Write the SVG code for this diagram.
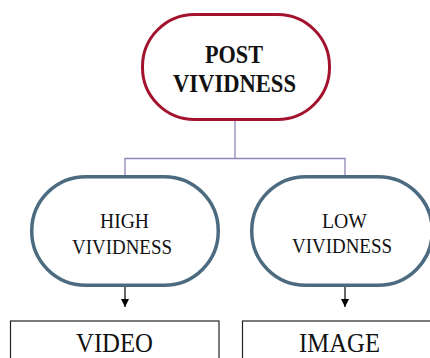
<svg xmlns="http://www.w3.org/2000/svg" width="430" height="358" viewBox="0 0 430 358">
<style>
.root{fill:#fff;stroke:#A3132E;stroke-width:3}
.mid{fill:#fff;stroke:#4D6B80;stroke-width:3.5}
.box{fill:#fff;stroke:#222;stroke-width:1.2}
.conn{fill:none;stroke:#8C88B8;stroke-width:1.3}
.arr{fill:none;stroke:#000;stroke-width:1.2}
text{font-family:"Liberation Serif","Times New Roman",serif;fill:#111;text-anchor:middle}
.b{font-weight:bold;font-size:25px}
.m{font-size:21.5px}
.l{font-size:27px}
</style>
<defs>
<marker id="ah" markerWidth="8" markerHeight="8" refX="8" refY="4" orient="auto" markerUnits="userSpaceOnUse">
<path d="M0,0 L8,4 L0,8 Z" fill="#000"/>
</marker>
</defs>
<rect width="430" height="358" fill="#fff"/>
<g id="connectors">
<path class="conn" d="M235,121 V158.5 M125,175 V158.5 H345 V175"/>
<path class="arr" d="M125,287 V307" marker-end="url(#ah)"/>
<path class="arr" d="M345,287 V307" marker-end="url(#ah)"/>
</g>
<g id="post-vividness">
<rect class="root" x="142.5" y="14.5" width="187" height="105" rx="52" ry="52"/>
<text class="b" x="234" y="63" textLength="58" lengthAdjust="spacingAndGlyphs">POST</text>
<text class="b" x="234.5" y="92" textLength="123" lengthAdjust="spacingAndGlyphs">VIVIDNESS</text>
</g>
<g id="high-vividness">
<rect class="mid" x="31.75" y="176.75" width="186.5" height="108.5" rx="54" ry="54"/>
<text class="m" x="124.5" y="228" textLength="49" lengthAdjust="spacingAndGlyphs">HIGH</text>
<text class="m" x="122" y="254" textLength="100" lengthAdjust="spacingAndGlyphs">VIVIDNESS</text>
</g>
<g id="low-vividness">
<rect class="mid" x="251.75" y="176.75" width="180.5" height="108.5" rx="54" ry="54"/>
<text class="m" x="344.5" y="228" textLength="45" lengthAdjust="spacingAndGlyphs">LOW</text>
<text class="m" x="342" y="253" textLength="100" lengthAdjust="spacingAndGlyphs">VIVIDNESS</text>
</g>
<g id="video">
<rect class="box" x="10.5" y="321" width="208.5" height="50"/>
<text class="l" x="114.5" y="352" textLength="77" lengthAdjust="spacingAndGlyphs">VIDEO</text>
</g>
<g id="image">
<rect class="box" x="242.5" y="321" width="200" height="50"/>
<text class="l" x="339.5" y="352" textLength="81" lengthAdjust="spacingAndGlyphs">IMAGE</text>
</g>
</svg>
